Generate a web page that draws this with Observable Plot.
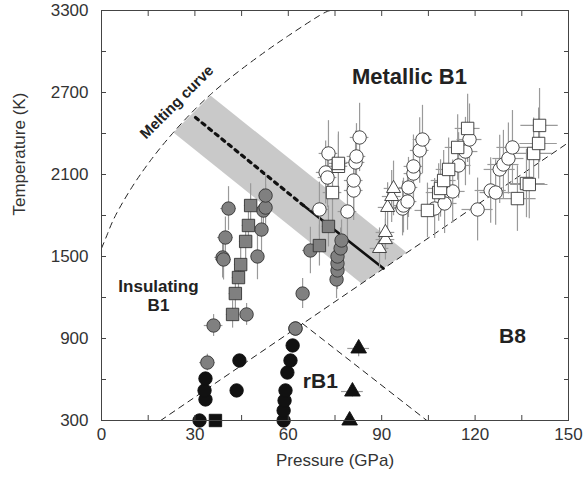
<!DOCTYPE html>
<html><head><meta charset="utf-8">
<script src="https://cdn.jsdelivr.net/npm/d3@7"></script>
<script src="https://cdn.jsdelivr.net/npm/@observablehq/plot@0.6"></script>
<style>body{margin:0;background:#fff}#chart{width:584px;height:477px}</style>
</head><body><div id="chart"></div>
<script>
// ---- axis ticks ----
const xTickLabels = [0, 30, 60, 90, 120, 150];
const xMinorTicks = [0, 15, 30, 45, 60, 75, 90, 105, 120, 135, 150];
const yTickLabels = [300, 900, 1500, 2100, 2700, 3300];
const yMinorTicks = [300, 600, 900, 1200, 1500, 1800, 2100, 2400, 2700, 3000, 3300];

// ---- boundary curves ----
const meltP = [0, 2, 4.5, 10, 16, 22.8, 35, 50, 60, 70, 73.6];
const meltT = [1560, 1670, 1800, 2015, 2210, 2400, 2685, 2956, 3115, 3263, 3300];
const b1b8P = [19, 150];
const b1b8T = [300, 2334];
const rb1b8P = [64.5, 104.5];
const rb1b8T = [1010, 300];
const dottedP = [30.2, 64.9];
const dottedT = [2517, 1873];
const solidP = [64.9, 90.6];
const solidT = [1873, 1412];
const bandP = [23.1, 35.0, 98.0, 83.5];
const bandT = [2407, 2678, 1529, 1302];

// ---- data: open (metallic B1) ----
const openCircleP = [70.0, 72.0, 72.6, 72.9, 79.0, 81.0, 81.0, 81.6, 81.9, 82.9,
  96.7, 97.0, 98.3, 98.6, 100.2, 100.2, 102.2, 103.1,
  107.0, 110.2, 112.8, 114.7, 116.9, 118.2,
  120.8, 125.0, 126.6, 127.9, 129.1, 130.7, 132.0];
const openCircleT = [1844, 2115, 2078, 2254, 1829, 1983, 2056, 2188, 2232, 2371,
  1851, 1873, 1902, 2005, 2107, 2159, 2276, 2356,
  1851, 1888, 1976, 2166, 2268, 2356,
  1844, 1983, 1968, 2137, 2173, 2217, 2298];
const openCircleDP = [3, 3, 3, 3, 3, 3, 3, 3, 3, 3,
  3, 3, 3, 3, 3, 3, 3, 3,
  4, 4, 4, 4, 4, 4,
  5, 5, 5, 5, 5, 5, 5];
const openCircleDT = [200, 230, 220, 240, 200, 220, 220, 230, 240, 250,
  200, 200, 210, 220, 230, 230, 240, 250,
  220, 220, 230, 240, 250, 260,
  230, 240, 240, 250, 250, 260, 270];

const openSquareP = [74.2, 76.1, 76.1, 104.7, 108.3, 108.9, 109.9, 111.5, 114.4, 117.6,
  133.6, 136.5, 137.4, 138.8, 140.4, 140.7];
const openSquareT = [1968, 2160, 2181, 1837, 1968, 1998, 2056, 2137, 2298, 2437,
  1924, 2034, 2027, 2254, 2327, 2459];
const openSquareDP = [3, 3, 3, 4, 4, 4, 4, 4, 4, 4, 6, 6, 6, 6, 6, 6];
const openSquareDT = [220, 230, 230, 200, 210, 210, 220, 230, 240, 250, 240, 250, 250, 260, 260, 270];

const openTriP = [89.3, 91.2, 91.2, 91.9, 93.2, 93.8];
const openTriT = [1559, 1624, 1676, 1859, 1939, 1998];
const openTriDP = [3, 3, 3, 3, 3, 3];
const openTriDT = [150, 150, 160, 180, 190, 200];

// ---- data: grey (insulating B1) ----
const greyCircleP = [34.0, 36.0, 46.6, 38.9, 39.2, 39.8, 40.8, 50.1, 51.4, 52.0, 52.7, 52.7,
  62.3, 64.6, 67.1, 75.5, 75.8, 75.8, 75.8, 76.8, 77.1];
const greyCircleT = [724, 995, 1076, 1493, 1478, 1639, 1851, 1500, 1697, 1836, 1858, 1946,
  973, 1229, 1544, 1332, 1398, 1449, 1500, 1559, 1617];
const greyCircleDP = [2.5, 3, 2, 2.5, 2.5, 2.5, 2.5, 2, 2, 2, 2, 2,
  0, 0, 2.5, 1.5, 1.5, 1.5, 1.5, 1.5, 1.5];
const greyCircleDT = [60, 80, 80, 150, 150, 150, 160, 170, 160, 160, 170, 170,
  0, 110, 170, 140, 140, 140, 150, 150, 150];

const greySquareP = [42.1, 43.0, 44.0, 44.7, 46.3, 47.2, 47.9, 70.0, 72.9];
const greySquareT = [1076, 1229, 1346, 1441, 1610, 1727, 1873, 1580, 1720];
const greySquareDP = [2, 2, 2, 2, 2, 2, 2, 2, 2];
const greySquareDT = [100, 110, 120, 130, 140, 150, 160, 150, 150];

// ---- data: black (rB1 / low T) ----
const blackCircleP = [31.5, 33.4, 33.1, 33.4, 43.4, 44.3, 58.5, 58.5, 58.8, 59.1, 59.7, 60.7, 61.4];
const blackCircleT = [300, 454, 520, 607, 520, 739, 300, 373, 446, 520, 651, 739, 849];
const blackCircleDP = [0, 2, 2, 2, 0, 0, 0, 0, 0, 0, 0, 0, 0];
const blackCircleDT = [0, 40, 40, 40, 0, 0, 0, 0, 0, 0, 0, 0, 0];
const blackSquareP = [36.6];
const blackSquareT = [300];
const blackTriP = [79.7, 80.6, 82.6];
const blackTriT = [300, 512, 827];
const blackTriDP = [0, 3.5, 3.5];
const blackTriDT = [0, 40, 60];

// ---- labels ----
const regionLabels = [
  {P: 98.9, T: 2824, text: "Metallic B1", size: 22},
  {P: 18.3, T: 1215, text: "Insulating\nB1", size: 17},
  {P: 70.3, T: 593, text: "rB1", size: 21},
  {P: 132, T: 922, text: "B8", size: 21}
];
const meltLabel = [{P: 24.2, T: 2630, text: "Melting curve"}];

// ---- build tables ----
const zip = (P, T) => P.map((p, i) => ({P: p, T: T[i]}));
const pts = (P, T, dP, dT) => P.map((p, i) => ({P: p, T: T[i], dP: dP ? dP[i] : 0, dT: dT ? dT[i] : 0}));

const openCircles = pts(openCircleP, openCircleT, openCircleDP, openCircleDT);
const openSquares = pts(openSquareP, openSquareT, openSquareDP, openSquareDT);
const openTris = pts(openTriP, openTriT, openTriDP, openTriDT);
const greyCircles = pts(greyCircleP, greyCircleT, greyCircleDP, greyCircleDT);
const greySquares = pts(greySquareP, greySquareT, greySquareDP, greySquareDT);
const blackCircles = pts(blackCircleP, blackCircleT, blackCircleDP, blackCircleDT);
const blackSquares = pts(blackSquareP, blackSquareT);
const blackTris = pts(blackTriP, blackTriT, blackTriDP, blackTriDT);
const allErr = [...greyCircles, ...greySquares, ...openCircles, ...openSquares, ...openTris, ...blackCircles, ...blackTris]
  .filter(d => d.dP > 0 || d.dT > 0);

const font = "'Liberation Sans', Arial, Helvetica, sans-serif";
const errColor = "#9a9a9a";
const edge = "#333";

const chart = Plot.plot({
  width: 584, height: 477,
  marginLeft: 101, marginRight: 16, marginTop: 10, marginBottom: 57,
  style: {fontFamily: font, fontSize: "17px", color: "#222", background: "#fff"},
  x: {domain: [0, 150]},
  y: {domain: [300, 3300]},
  marks: [
    Plot.line(zip(bandP, bandT), {x: "P", y: "T", fill: "#c9c9c9", stroke: "none"}),
    Plot.line(zip(meltP, meltT), {x: "P", y: "T", stroke: "#222", strokeWidth: 1, strokeDasharray: "6,5", curve: "natural", clip: true}),
    Plot.line(zip(b1b8P, b1b8T), {x: "P", y: "T", stroke: "#222", strokeWidth: 1, strokeDasharray: "6,5", clip: true}),
    Plot.line(zip(rb1b8P, rb1b8T), {x: "P", y: "T", stroke: "#222", strokeWidth: 1, strokeDasharray: "6,5", clip: true}),
    Plot.line(zip(dottedP, dottedT), {x: "P", y: "T", stroke: "#111", strokeWidth: 3.2, strokeDasharray: "3.5,5"}),
    Plot.line(zip(solidP, solidT), {x: "P", y: "T", stroke: "#111", strokeWidth: 2.6}),
    Plot.ruleX(allErr.filter(d => d.dT > 0), {x: "P", y1: d => d.T - d.dT, y2: d => d.T + d.dT, stroke: errColor, strokeWidth: 1.2, clip: true}),
    Plot.ruleY(allErr.filter(d => d.dP > 0), {y: "T", x1: d => d.P - d.dP, x2: d => d.P + d.dP, stroke: errColor, strokeWidth: 1.2, clip: true}),
    Plot.dot(greyCircles, {x: "P", y: "T", r: 6.7, symbol: "circle", fill: "#808080", stroke: edge, strokeWidth: 0.9}),
    Plot.dot(greySquares, {x: "P", y: "T", r: 7, symbol: "square", fill: "#808080", stroke: edge, strokeWidth: 0.9}),
    Plot.dot(openCircles, {x: "P", y: "T", r: 6.7, symbol: "circle", fill: "#fff", stroke: edge, strokeWidth: 0.9}),
    Plot.dot(openSquares, {x: "P", y: "T", r: 7, symbol: "square", fill: "#fff", stroke: edge, strokeWidth: 0.9}),
    Plot.dot(openTris, {x: "P", y: "T", r: 5.2, symbol: "triangle", fill: "#fff", stroke: edge, strokeWidth: 0.9}),
    Plot.dot(blackCircles, {x: "P", y: "T", r: 6.7, symbol: "circle", fill: "#111", stroke: "#111", strokeWidth: 0.9}),
    Plot.dot(blackSquares, {x: "P", y: "T", r: 7, symbol: "square", fill: "#111", stroke: "#111", strokeWidth: 0.9}),
    Plot.dot(blackTris, {x: "P", y: "T", r: 5.8, symbol: "triangle", fill: "#111", stroke: "#111", strokeWidth: 0.9}),
    Plot.dot(greyCircles.filter(d => d.P > 62 && d.P < 63), {x: "P", y: "T", r: 6.7, symbol: "circle", fill: "#808080", stroke: edge, strokeWidth: 0.9}),
    Plot.text(regionLabels, {x: "P", y: "T", text: "text", fontSize: d => d.size, fontWeight: "bold", fill: "#222", lineHeight: 1.15}),
    Plot.text(meltLabel, {x: "P", y: "T", text: "text", fontSize: 15, fontWeight: "bold", fill: "#222", rotate: -45}),
    Plot.frame({stroke: "#444", strokeWidth: 1}),
    Plot.axisX(xMinorTicks, {anchor: "bottom", tickSize: -5, text: null, stroke: "#444", label: null}),
    Plot.axisX(xMinorTicks, {anchor: "top", tickSize: -5, text: null, stroke: "#444", label: null}),
    Plot.axisY(yMinorTicks, {anchor: "left", tickSize: -5, text: null, stroke: "#444", label: null}),
    Plot.axisY(yMinorTicks, {anchor: "right", tickSize: -5, text: null, stroke: "#444", label: null}),
    Plot.axisX(xTickLabels, {anchor: "bottom", tickSize: 0, tickPadding: 7, tickFormat: d => String(d), fontSize: 17, fill: "#333", label: null}),
    Plot.axisY(yTickLabels, {anchor: "left", tickSize: 0, tickPadding: 13, tickFormat: d => String(d), fontSize: 17, fill: "#333", label: null}),
    Plot.text(["Pressure (GPa)"], {frameAnchor: "bottom", text: d => d, dy: 45, fontSize: 17, fill: "#333"}),
    Plot.text(["Temperature (K)"], {frameAnchor: "left", text: d => d, dx: -82, rotate: -90, fontSize: 17, fill: "#333"})
  ]
});
document.getElementById("chart").appendChild(chart);
</script></body></html>
